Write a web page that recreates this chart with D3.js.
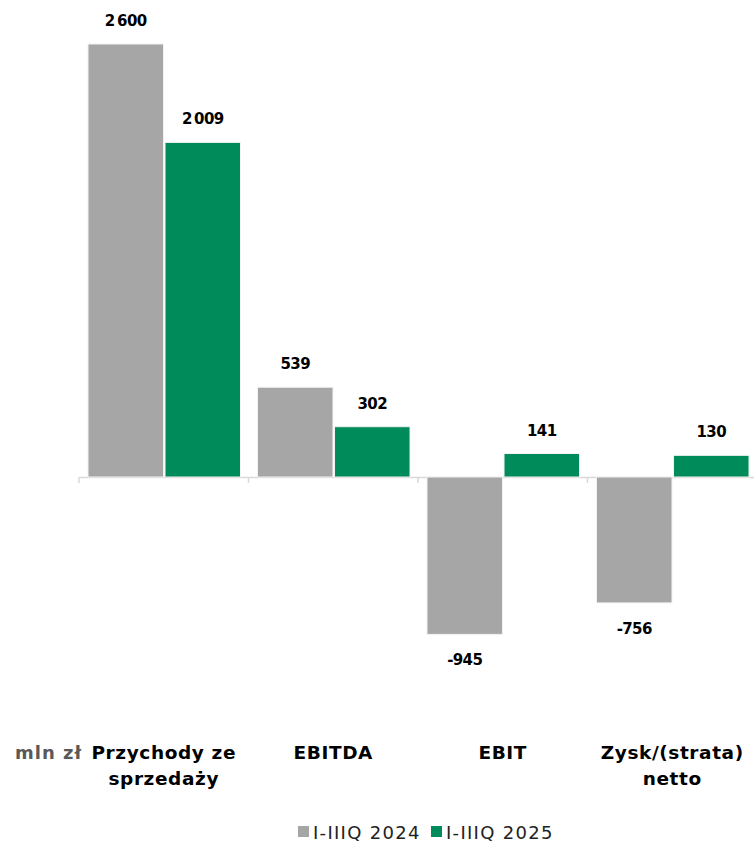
<!DOCTYPE html>
<html>
<head>
<meta charset="utf-8">
<script src="https://cdn.jsdelivr.net/npm/d3@7"></script>
<style>
  body { margin: 0; background: #fff; }
  text { font-family: "DejaVu Sans", "Open Sans", sans-serif; }
</style>
</head>
<body>
<div id="chart"></div>
<script>
// data
var categories = ["Przychody ze|sprzedaży", "EBITDA", "EBIT", "Zysk/(strata)|netto"];
var seriesNames = ["I-IIIQ 2024", "I-IIIQ 2025"];
var values2024 = [2600, 539, -945, -756];
var values2025 = [2009, 302, 141, 130];
var seriesColors = ["#a6a6a6", "#008c5a"];

var width = 754, height = 843;
var zeroY = 477;

var svg = d3.select("#chart").append("svg")
    .attr("width", width)
    .attr("height", height);

var rows = categories.map(function (c, i) {
    return { cat: c, vals: [values2024[i], values2025[i]] };
});

// scales
var x0 = d3.scaleBand()
    .domain(categories)
    .range([79, 757])
    .padding(0);

var x1 = d3.scaleBand()
    .domain(seriesNames)
    .range([9, x0.bandwidth() - 8])
    .paddingInner(0.02);

var y = d3.scaleLinear()
    .domain([-945, 2600])
    .range([zeroY + 945 * 433 / 2600, 44]);

// axis line at zero
var xAxis = d3.axisBottom(x0)
    .tickValues([])
    .tickSizeOuter(0);

svg.append("g")
    .attr("class", "x-axis")
    .attr("transform", "translate(0," + y(0) + ")")
    .call(xAxis)
    .select(".domain")
    .attr("stroke", "#d9d9d9")
    .attr("stroke-width", 1.5);

// category separators (ticks)
svg.select(".x-axis").selectAll("line.sep")
    .data(categories)
    .enter()
    .append("line")
    .attr("class", "sep")
    .attr("x1", function (d) { return x0(d); })
    .attr("x2", function (d) { return x0(d); })
    .attr("y1", 0)
    .attr("y2", 6)
    .attr("stroke", "#d9d9d9")
    .attr("stroke-width", 1.5);

// bars
var groups = svg.selectAll("g.cat")
    .data(rows)
    .enter()
    .append("g")
    .attr("class", "cat")
    .attr("transform", function (d) { return "translate(" + x0(d.cat) + ",0)"; });

groups.selectAll("rect")
    .data(function (d) { return d.vals.map(function (v, i) { return { s: seriesNames[i], v: v, i: i }; }); })
    .enter()
    .append("rect")
    .attr("x", function (d) { return x1(d.s); })
    .attr("width", x1.bandwidth())
    .attr("y", function (d) { return y(Math.max(0, d.v)); })
    .attr("height", function (d) { return Math.abs(y(d.v) - y(0)); })
    .attr("fill", function (d) { return seriesColors[d.i]; })
    .attr("stroke", "#f2f2f2")
    .attr("stroke-width", 1);

// value labels
groups.selectAll("text.val")
    .data(function (d) { return d.vals.map(function (v, i) { return { s: seriesNames[i], v: v }; }); })
    .enter()
    .append("text")
    .attr("class", "val")
    .attr("x", function (d) { return x1(d.s) + x1.bandwidth() / 2; })
    .attr("y", function (d) { return d.v >= 0 ? y(d.v) - 18 : y(d.v) + 31; })
    .attr("text-anchor", "middle")
    .style("font-size", "15px")
    .style("font-weight", "700")
    .style("letter-spacing", "-0.6px")
    .attr("fill", "#000")
    .text(function (d) {
        return Math.abs(d.v) >= 1000 ? d3.format(",")(d.v).replace(",", "\u2009") : String(d.v);
    });

// category labels
svg.selectAll("text.cat")
    .data(categories)
    .enter()
    .append("text")
    .attr("class", "cat")
    .attr("y", 759)
    .attr("text-anchor", "middle")
    .style("font-size", "18.5px")
    .style("font-weight", "700")
    .style("letter-spacing", "0.6px")
    .attr("fill", "#000")
    .selectAll("tspan")
    .data(function (d) { return d.split("|"); })
    .enter()
    .append("tspan")
    .attr("x", function () { var p = d3.select(this.parentNode).datum(); return x0(p) + x0.bandwidth() / 2; })
    .attr("dy", function (d, i) { return i === 0 ? 0 : 26; })
    .text(function (d) { return d; });

svg.append("text")
    .attr("x", 15)
    .attr("y", 759)
    .style("font-size", "18px")
    .style("font-weight", "700")
    .style("letter-spacing", "1px")
    .attr("fill", "#595959")
    .text("mln zł");

// legend
var legendX = [298, 431];
var legend = svg.selectAll("g.legend")
    .data(seriesNames)
    .enter()
    .append("g")
    .attr("class", "legend")
    .attr("transform", function (d, i) { return "translate(" + legendX[i] + ",826)"; });

legend.append("rect")
    .attr("width", 11)
    .attr("height", 11)
    .attr("fill", function (d, i) { return seriesColors[i]; });

legend.append("text")
    .attr("x", 15)
    .attr("y", 12.5)
    .style("font-size", "18px")
    .style("letter-spacing", "1.3px")
    .attr("fill", "#222")
    .text(function (d) { return d; });
</script>
</body>
</html>
